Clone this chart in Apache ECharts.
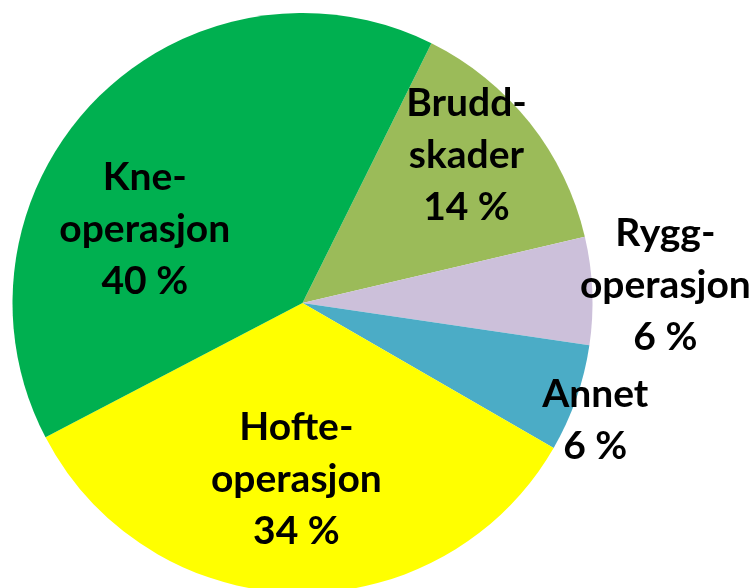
<!DOCTYPE html>
<html>
<head>
<meta charset="utf-8">
<script src="https://cdn.jsdelivr.net/npm/echarts@6/dist/echarts.min.js"></script>
<style>
  html, body { margin: 0; padding: 0; background: #fff; }
  #chart { width: 756px; height: 588px; }
</style>
</head>
<body>
<div id="chart"></div>
<script>
// kategorier i rekkefølge med klokka, fra Bruddskader
const categories = ['Brudd-\nskader', 'Rygg-\noperasjon', 'Annet', 'Hofte-\noperasjon', 'Kne-\noperasjon'];
const shares = [14, 6, 6, 34, 40];
const colors = ['#9BBB59', '#CCC0DA', '#4BACC6', '#FFFF00', '#00B050'];

// manuelle forskyvninger av etikettene (som i Excel)
const labelNudge = [[48, -56], [215, -11], [153, 69], [-3, 28], [-52, 30]];

const chart = echarts.init(document.getElementById('chart'));

const option = {
  animation: false,
  series: [
    {
      type: 'pie',
      center: [302.5, 303],
      radius: 290,
      startAngle: 63.6,
      clockwise: true,
      silent: true,
      avoidLabelOverlap: false,
      label: {
        show: true,
        position: 'inside',
        formatter: '{b}\n{c} %',
        fontFamily: 'Lato',
        fontWeight: 'bold',
        fontSize: 39,
        lineHeight: 52,
        color: '#000',
        align: 'center',
        verticalAlign: 'middle'
      },
      labelLine: { show: false },
      labelLayout: function (params) {
        const n = labelNudge[params.dataIndex];
        return { dx: n[0], dy: n[1] };
      },
      data: categories.map((name, i) => ({
        name: name,
        value: shares[i],
        itemStyle: { color: colors[i] }
      }))
    }
  ]
};

chart.setOption(option);
</script>
</body>
</html>
